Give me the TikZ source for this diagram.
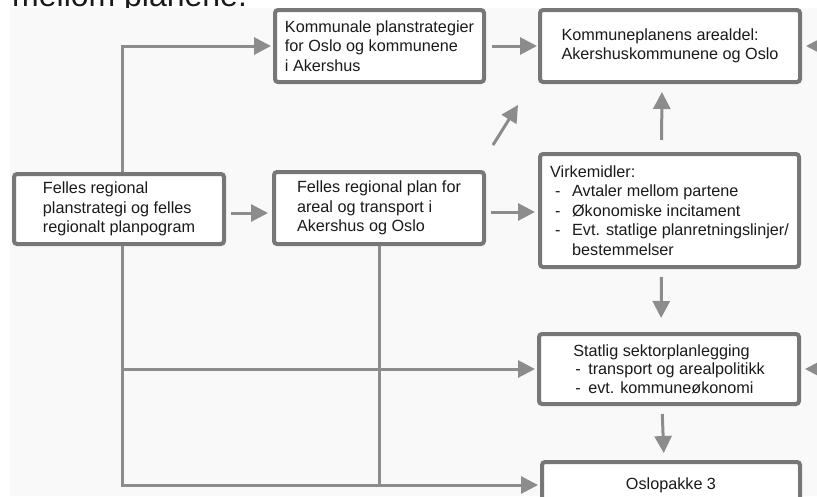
\documentclass[tikz,border=0pt]{standalone}
\usepackage{fontspec}
\setmainfont{Liberation Sans}
\usetikzlibrary{arrows.meta}
\definecolor{rammegraa}{HTML}{777777}
\definecolor{pilgraa}{HTML}{8C8C8C}
\definecolor{tekstgraa}{HTML}{1A1A1A}
\definecolor{bakgrunn}{HTML}{F9F9F9}
\newcommand{\strek}[2]{\makebox[#1][l]{\hspace{#2}-}}
\begin{document}
\begin{tikzpicture}[x=1pt,y=-1pt,
  boks/.style={draw=rammegraa,line width=4pt,rounded corners=3pt,fill=white,
    anchor=north west,inner sep=1pt,align=left,text=tekstgraa,
    font=\fontsize{16.2}{19.5}\selectfont},
  pil/.style={draw=pilgraa,line width=3pt,-{Triangle[length=17pt,width=17pt]}},
  linje/.style={draw=pilgraa,line width=3pt}]
\useasboundingbox (0,0) rectangle (817,496);
\clip (0,0) rectangle (817,496);
% overskriften er kuttet i toppen
\node[anchor=base west,inner sep=0pt,text=tekstgraa,
  font=\fontsize{32}{38}\selectfont] (overskrift) at (12,6) {mellom planene.};
\fill[bakgrunn] (10,8) rectangle (817,496);
% boksene
\node[boks,minimum width=209pt,minimum height=72pt] (kom) at (273,8)
  {Kommunale planstrategier\\for Oslo og kommunene\\i Akershus};
\node[boks,minimum width=260pt,minimum height=72pt] (kpa) at (538,8)
  {Kommuneplanens arealdel:\\Akershuskommunene og Oslo};
\node[boks,minimum width=210pt,minimum height=70pt] (lft) at (12,172)
  {Felles regional\\planstrategi og felles\\regionalt planpogram};
\node[boks,minimum width=210pt,minimum height=72pt] (mid) at (272,170)
  {Felles regional plan for\\areal og transport i\\Akershus og Oslo};
\node[boks,minimum width=259pt,minimum height=113pt] (virk) at (538,152)
  {Virkemidler:\\\strek{22pt}{5pt}Avtaler mellom partene\\\strek{22pt}{5pt}Økonomiske incitament\\
   \strek{22pt}{5pt}Evt. statlige planretningslinjer/\\\hspace*{22pt}bestemmelser};
\node[boks,minimum width=260pt,minimum height=70pt,font=\fontsize{16.2}{18.5}\selectfont] (stat) at (537,332)
  {Statlig sektorplanlegging\\\strek{15pt}{2pt}transport og arealpolitikk\\\strek{15pt}{2pt}evt. kommuneøkonomi};
\node[boks,minimum width=258pt,minimum height=46pt,align=center] (oslo) at (540,460) {Oslopakke 3};
% piler og linjer
\coordinate (stamme) at ([xshift=3pt]lft.south);
\coordinate (hoyre) at (830,0);
\coordinate (diagfra) at (493,145);
\coordinate (diagtil) at (518,105);
\draw[pil,shorten >=2pt] ([xshift=3pt]lft.north) |- (kom.west);
\draw[pil,shorten <=6pt,shorten >=1pt] (kom.east) -- (kpa.west);
\draw[pil,shorten <=5pt,shorten >=4pt] ([yshift=-4pt]lft.east) -- ([yshift=-4pt]lft.east -| mid.west);
\draw[pil,shorten <=5pt,shorten >=3pt] ([yshift=-4pt]mid.east) -- ([yshift=-4pt]mid.east -| virk.west);
\draw[pil] (diagfra) -- (diagtil);
\draw[pil,shorten <=12pt,shorten >=8pt] ([xshift=-8pt]virk.north) -- ([xshift=-8pt]kpa.south);
\draw[pil,shorten <=8pt,shorten >=14pt] ([xshift=-8pt]virk.south) -- ([xshift=-8pt]stat.north);
\draw[pil,shorten <=8pt,shorten >=7pt] ([xshift=-7pt]stat.south) -- ([xshift=-7pt]oslo.north);
\draw[pil,shorten >=2pt] (stamme) |- (oslo.west);
\draw[pil,shorten >=2pt] (stamme |- stat.west) -- (stat.west);
\draw[linje] (mid.south) -- (mid.south |- oslo.west);
\draw[pil,shorten >=4pt] (hoyre |- kpa.east) -- (kpa.east);
\draw[pil,shorten >=4pt] (hoyre |- stat.east) -- (stat.east);
\end{tikzpicture}
\end{document}
